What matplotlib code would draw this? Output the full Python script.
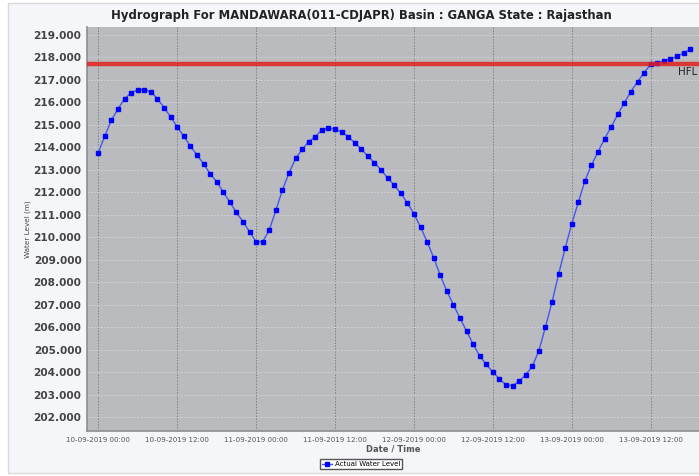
import matplotlib
matplotlib.use("Agg")
import matplotlib.pyplot as plt
import matplotlib.dates as mdates
from matplotlib.patches import Rectangle
from matplotlib.ticker import FormatStrFormatter, MultipleLocator
import pandas as pd

# hourly readings starting 10-09-2019 00:00
start_time = "2019-09-10 00:00"
water_level = [
    213.76, 214.51, 215.21, 215.70, 216.16, 216.41, 216.56, 216.56, 216.45, 216.16,
    215.76, 215.34, 214.90, 214.48, 214.05, 213.65, 213.27, 212.82, 212.47, 212.00,
    211.56, 211.10, 210.69, 210.24, 209.80, 209.80, 210.32, 211.19, 212.10, 212.85,
    213.50, 213.90, 214.25, 214.46, 214.78, 214.85, 214.80, 214.68, 214.46, 214.20,
    213.91, 213.60, 213.31, 212.99, 212.63, 212.31, 211.95, 211.52, 211.04, 210.45,
    209.80, 209.09, 208.31, 207.61, 207.00, 206.41, 205.83, 205.25, 204.72, 204.35,
    204.01, 203.70, 203.44, 203.40, 203.61, 203.89, 204.26, 204.96, 206.01, 207.12,
    208.36, 209.51, 210.60, 211.55, 212.51, 213.21, 213.80, 214.38, 214.90, 215.46,
    215.98, 216.47, 216.91, 217.31, 217.68, 217.76, 217.82, 217.91, 218.04, 218.19,
    218.35,
]
hfl_level = 217.69
title = "Hydrograph For MANDAWARA(011-CDJAPR) Basin : GANGA State : Rajasthan"

times = pd.date_range(start_time, periods=len(water_level), freq="h")

fig = plt.figure(figsize=(6.99, 4.76), dpi=100)
fig.patch.set_facecolor("white")

# light chart panel with border
panel = Rectangle((8 / 699, 3 / 476), 1.0, 470 / 476, transform=fig.transFigure,
                  facecolor="#f4f6fa", edgecolor="#d8dadd", linewidth=1.0, zorder=-10)
fig.patches.append(panel)

ax = fig.add_axes([87 / 699, 45 / 476, 1 - 87 / 699, 404 / 476])
ax.set_zorder(2)
ax.set_facecolor("#b9bbbe")

ax.plot(times, water_level, color="#4556f0", linewidth=1.0, marker="s", markersize=3.1,
        markerfacecolor="#0000ff", markeredgecolor="#0000ff", zorder=3,
        label="Actual Water Level")
ax.axhline(hfl_level, color="#e02020", linewidth=3.2, alpha=0.85, zorder=4)

t0 = times[0]
ax.set_xlim(t0 - pd.Timedelta(hours=1.72), t0 + pd.Timedelta(hours=91.35))
ax.set_ylim(201.39, 219.34)
ax.text(t0 + pd.Timedelta(hours=88.1), hfl_level - 0.12, "HFL", fontsize=7.5,
        color="#222222", va="top", ha="left", zorder=5, clip_on=True)

ax.yaxis.set_major_locator(MultipleLocator(1.0))
ax.yaxis.set_major_formatter(FormatStrFormatter("%.3f"))
ax.xaxis.set_major_locator(mdates.HourLocator(byhour=[0, 12]))
ax.xaxis.set_major_formatter(mdates.DateFormatter("%d-%m-%Y %H:%M"))

ax.grid(axis="x", color="#7e8084", linestyle=(0, (1.5, 1.5)), linewidth=0.7)
ax.grid(axis="y", color="#d4d6d9", linestyle=(0, (2, 2)), linewidth=0.6)
ax.set_axisbelow(True)

ax.tick_params(axis="y", labelsize=7.6, labelcolor="#444444", length=0, pad=4)
ax.tick_params(axis="x", labelsize=5.1, labelcolor="#555555", length=0, pad=4)
for lbl in ax.get_yticklabels():
    lbl.set_fontweight("bold")

for side in ["top", "right"]:
    ax.spines[side].set_visible(False)
ax.spines["left"].set_color("#8c8e91")
ax.spines["bottom"].set_color("#8c8e91")
ax.spines["left"].set_linewidth(1.2)
ax.spines["bottom"].set_linewidth(1.2)

ax.set_xlabel("Date / Time", fontsize=6, fontweight="bold", color="#555555", labelpad=1.5)
ax.set_ylabel("Water Level (m)", fontsize=5.2, color="#444444", labelpad=2)

fig.text(361 / 699, 1 - 16 / 476, title, fontsize=8.35, fontweight="bold",
         ha="center", va="center", color="#222222")

fig.legend(loc="center", bbox_to_anchor=(361 / 699, 1 - 464 / 476), fontsize=5,
           frameon=True, fancybox=False, edgecolor="#555555", framealpha=1,
           facecolor="white", handlelength=1.5, borderpad=0.3, handletextpad=0.3,
           markerscale=0.8)

fig.savefig("out.png", dpi=100)
